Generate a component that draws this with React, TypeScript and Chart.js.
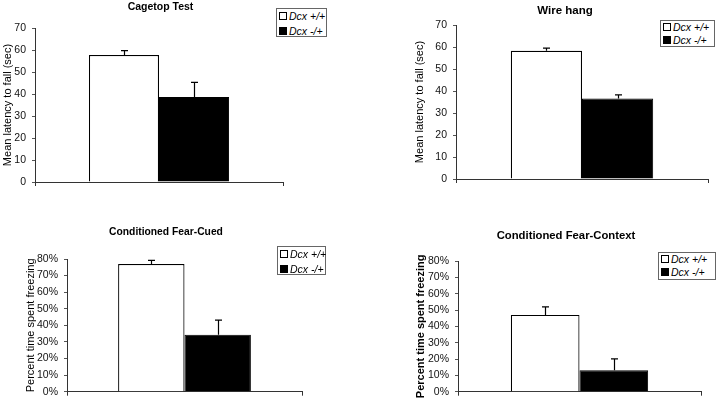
import React, { useEffect, useRef } from "react";
import { Chart, registerables } from "chart.js";

Chart.register(...registerables);

// ---- data ----
const groups = ["Dcx +/+", "Dcx -/+"];

const cagetopMeans = [57.7, 38.6];
const cagetopSem = [2.0, 6.7];

const wireMeans = [58.3, 36.6];
const wireSem = [1.2, 1.6];

const cuedMeans = [77.0, 34.4];
const cuedSem = [2.2, 8.8];

const contextMeans = [47.0, 13.1];
const contextSem = [4.9, 7.0];

const latencyTicks = [0, 70, 10];
const percentTicks = [0, 80, 10];

const FONT = "'Liberation Sans', Arial, sans-serif";

type PanelCfg = {
  title: string;
  titleSize: number;
  titleX: number;
  titleY: number;
  yTitle: string;
  yTitleBold: boolean;
  means: number[];
  sem: number[];
  range: number[];
  percent: boolean;
  box: { left: number; top: number; w: number; h: number };
  padLeft: number;
  yWidth: number;
  padTop: number;
  xHeight: number;
  padRight: number;
  legend: { left: number; top: number; w: number; h: number; row: number };
};

const panels: PanelCfg[] = [
  {
    title: "Cagetop Test", titleSize: 10.5, titleX: 160.5, titleY: 6,
    yTitle: "Mean latency to fall (sec)", yTitleBold: false,
    means: cagetopMeans, sem: cagetopSem, range: latencyTicks, percent: false,
    box: { left: 0, top: 0, w: 360, h: 200 },
    padLeft: 1, yWidth: 34, padTop: 28, xHeight: 18, padRight: 77,
    legend: { left: 276, top: 8, w: 51, h: 29, row: 15 },
  },
  {
    title: "Wire hang", titleSize: 11.5, titleX: 565, titleY: 10,
    yTitle: "Mean latency to fall (sec)", yTitleBold: false,
    means: wireMeans, sem: wireSem, range: latencyTicks, percent: false,
    box: { left: 360, top: 0, w: 360, h: 200 },
    padLeft: 53, yWidth: 43, padTop: 25, xHeight: 21, padRight: 12,
    legend: { left: 660, top: 20, w: 55, h: 27, row: 13 },
  },
  {
    title: "Conditioned Fear-Cued", titleSize: 10.3, titleX: 166, titleY: 232,
    yTitle: "Percent time spent freezing", yTitleBold: false,
    means: cuedMeans, sem: cuedSem, range: percentTicks, percent: true,
    box: { left: 0, top: 200, w: 360, h: 204 },
    padLeft: 24, yWidth: 43, padTop: 59, xHeight: 11, padRight: 58,
    legend: { left: 277, top: 246, w: 49, h: 29, row: 14.5 },
  },
  {
    title: "Conditioned Fear-Context", titleSize: 11.3, titleX: 566, titleY: 235,
    yTitle: "Percent time spent freezing", yTitleBold: true,
    means: contextMeans, sem: contextSem, range: percentTicks, percent: true,
    box: { left: 360, top: 200, w: 360, h: 204 },
    padLeft: 54, yWidth: 44, padTop: 61, xHeight: 7, padRight: 19,
    legend: { left: 658, top: 252, w: 58, h: 28, row: 13 },
  },
];

const errorBarPlugin = {
  id: "errorBars",
  afterDatasetsDraw(chart: any, _args: any, opts: any) {
    const sem: number[] = opts.sem || [];
    const ctx = chart.ctx;
    const yScale = chart.scales.y;
    ctx.save();
    ctx.strokeStyle = "#000";
    ctx.lineWidth = 1.2;
    chart.data.datasets.forEach((ds: any, i: number) => {
      const meta = chart.getDatasetMeta(i);
      const bar: any = meta.data[0];
      if (!bar) return;
      const v = ds.data[0] as number;
      const x = Math.round(bar.x) + 0.5;
      const yTop = yScale.getPixelForValue(v + sem[i]);
      const yVal = yScale.getPixelForValue(v);
      ctx.beginPath();
      ctx.moveTo(x, yVal);
      ctx.lineTo(x, yTop);
      ctx.moveTo(x - 3.5, yTop);
      ctx.lineTo(x + 3.5, yTop);
      ctx.stroke();
    });
    ctx.restore();
  },
};

function Panel({ cfg }: { cfg: PanelCfg }) {
  const ref = useRef<HTMLCanvasElement>(null);
  useEffect(() => {
    if (!ref.current) return;
    const chart = new Chart(ref.current, {
      type: "bar",
      data: {
        labels: [""],
        datasets: [
          {
            label: groups[0],
            data: [cfg.means[0]],
            backgroundColor: "#ffffff",
            borderColor: "#000000",
            borderWidth: 1.2,
            borderSkipped: "start",
          },
          {
            label: groups[1],
            data: [cfg.means[1]],
            backgroundColor: "#000000",
            borderColor: "#000000",
            borderWidth: 1,
            borderSkipped: "start",
          },
        ],
      },
      options: {
        responsive: false,
        animation: false,
        events: [],
        layout: {
          padding: { left: cfg.padLeft, top: cfg.padTop, right: cfg.padRight, bottom: 0 },
        },
        datasets: {
          bar: { barPercentage: 1, categoryPercentage: 0.565 },
        },
        plugins: {
          legend: { display: false },
          title: { display: false },
          tooltip: { enabled: false },
          errorBars: { sem: cfg.sem },
        } as any,
        scales: {
          x: {
            offset: true,
            grid: {
              display: true,
              drawOnChartArea: false,
              drawTicks: true,
              tickLength: 4,
              color: "#333",
              offset: true,
            },
            border: { display: true, color: "#333", width: 1 },
            ticks: { display: false },
            afterFit: (s: any) => {
              s.height = cfg.xHeight;
            },
          },
          y: {
            min: cfg.range[0],
            max: cfg.range[1],
            grid: {
              display: true,
              drawOnChartArea: false,
              drawTicks: true,
              tickLength: 3,
              color: "#555",
            },
            border: { display: true, color: "#333", width: 1 },
            ticks: {
              stepSize: cfg.range[2],
              padding: 6,
              color: "#111",
              font: { family: FONT, size: 10.5 },
              callback: (v: any) => (cfg.percent ? `${v}%` : `${v}`),
            },
            title: {
              display: true,
              text: cfg.yTitle,
              color: "#000",
              padding: 0,
              font: { family: FONT, size: 11, weight: cfg.yTitleBold ? "bold" : "normal" },
            },
            afterFit: (s: any) => {
              s.width = cfg.yWidth;
            },
          },
        },
      },
      plugins: [errorBarPlugin],
    });
    return () => chart.destroy();
  }, [cfg]);

  const lg = cfg.legend;
  const marker = (fill: string): React.CSSProperties => ({
    display: "inline-block",
    width: 6,
    height: 6,
    border: "1px solid #000",
    background: fill,
    marginRight: 2,
    verticalAlign: "middle",
    position: "relative",
    top: -1,
  });

  return (
    <>
      <canvas
        ref={ref}
        width={cfg.box.w}
        height={cfg.box.h}
        style={{ position: "absolute", left: cfg.box.left, top: cfg.box.top, width: cfg.box.w, height: cfg.box.h }}
      />
      <div
        style={{
          position: "absolute",
          left: cfg.titleX - 100,
          width: 200,
          top: cfg.titleY - 7,
          height: 14,
          lineHeight: "14px",
          textAlign: "center",
          fontFamily: FONT,
          fontWeight: "bold",
          fontSize: cfg.titleSize,
          color: "#000",
        }}
      >
        {cfg.title}
      </div>
      <div
        style={{
          position: "absolute",
          left: lg.left,
          top: lg.top,
          width: lg.w,
          height: lg.h,
          boxSizing: "border-box",
          border: "1px solid #666",
          background: "#fff",
          paddingLeft: 2,
          paddingTop: 0,
          fontFamily: FONT,
          fontSize: 10.5,
          fontStyle: "italic",
          color: "#000",
          whiteSpace: "nowrap",
        }}
      >
        {groups.map((g, i) => (
          <div key={g} style={{ height: lg.row, lineHeight: `${lg.row}px` }}>
            <span style={marker(i === 0 ? "#fff" : "#000")} />
            {g}
          </div>
        ))}
      </div>
    </>
  );
}

export default function App() {
  return (
    <div
      style={{
        position: "fixed",
        left: 0,
        top: 0,
        width: 720,
        height: 404,
        background: "#fff",
        overflow: "hidden",
      }}
    >
      {panels.map((p) => (
        <Panel key={p.title} cfg={p} />
      ))}
    </div>
  );
}
